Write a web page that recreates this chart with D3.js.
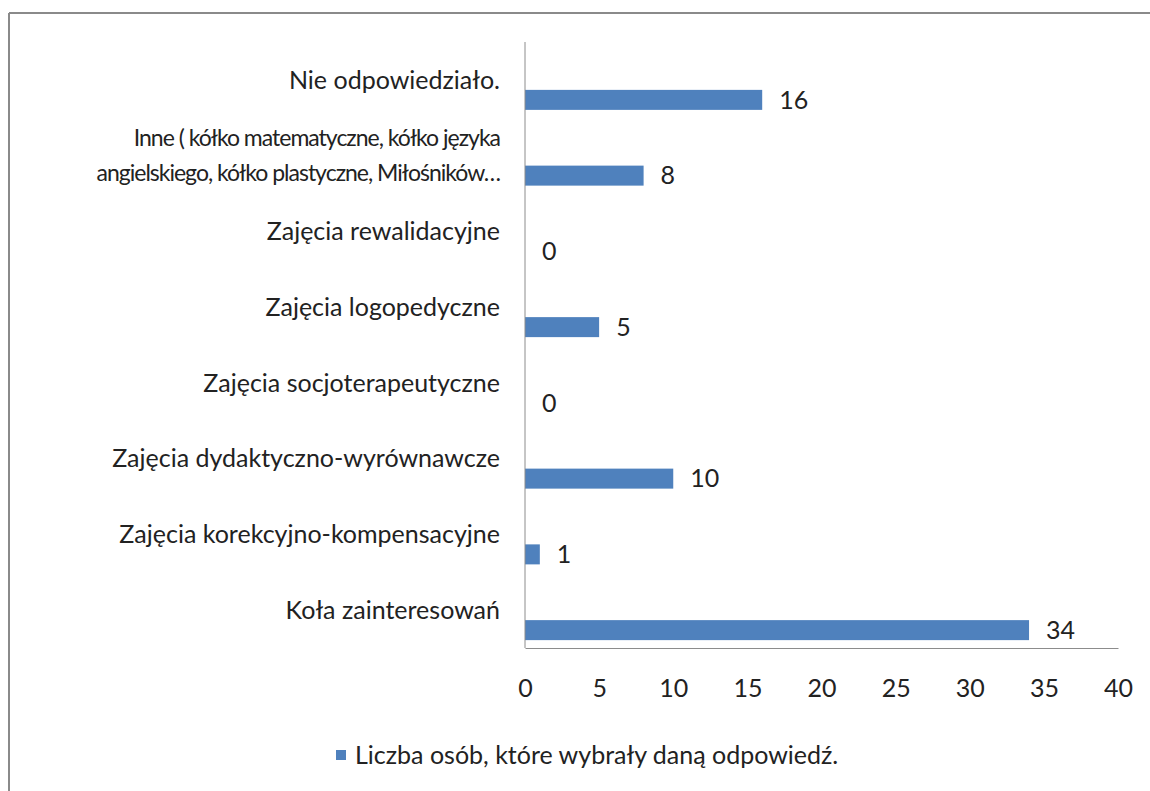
<!DOCTYPE html>
<html>
<head>
<meta charset="utf-8">
<script src="https://cdn.jsdelivr.net/npm/d3@7"></script>
<style>
  html, body { margin: 0; padding: 0; background: #fff; }
  svg { display: block; font-family: Lato, "Open Sans", sans-serif; }
</style>
</head>
<body>
<svg id="chart" width="1150" height="791"></svg>
<script>
// categories top to bottom, as in the picture
const categories = [
  ["Nie odpowiedziało."],
  ["Inne ( kółko matematyczne, kółko języka", "angielskiego, kółko plastyczne, Miłośników…"],
  ["Zajęcia rewalidacyjne"],
  ["Zajęcia logopedyczne"],
  ["Zajęcia socjoterapeutyczne"],
  ["Zajęcia dydaktyczno-wyrównawcze"],
  ["Zajęcia korekcyjno-kompensacyjne"],
  ["Koła zainteresowań"]
];
const values = [16, 8, 0, 5, 0, 10, 1, 34];
const xTicks = [0, 5, 10, 15, 20, 25, 30, 35, 40];
const seriesName = "Liczba osób, które wybrały daną odpowiedź.";

const barColor = "#4f81bd";
const textColor = "#222";
const axisColor = "#8c8c8c";
const fontSize = 25;
const wrappedFontSize = 23; // two-line label is set a bit tighter

const svg = d3.select("#chart");

// frame of the original picture (top and left edges only)
svg.append("line").attr("x1", 9).attr("x2", 1150).attr("y1", 13).attr("y2", 13)
  .attr("stroke", "#8a8a8a").attr("stroke-width", 2);
svg.append("line").attr("x1", 9).attr("x2", 9).attr("y1", 13).attr("y2", 791)
  .attr("stroke", "#8a8a8a").attr("stroke-width", 2);

const plot = {left: 525, right: 1118, top: 42, bottom: 648};

const x = d3.scaleLinear().domain([0, 40]).range([plot.left, plot.right]);
const y = d3.scaleBand().domain(d3.range(categories.length)).range([plot.top, plot.bottom]);

// bar sits in the lower part of each band
const barOffset = y.bandwidth() / 2 + 10;
const barH = 20;

const g = svg.append("g");

g.selectAll("rect.bar").data(values).join("rect")
  .attr("class", "bar")
  .attr("x", x(0))
  .attr("y", (d, i) => y(i) + barOffset)
  .attr("width", d => x(d) - x(0))
  .attr("height", barH)
  .attr("fill", barColor);

// value labels
g.selectAll("text.val").data(values).join("text")
  .attr("class", "val")
  .attr("x", d => x(d) + 17)
  .attr("y", (d, i) => y(i) + barOffset + barH / 2)
  .attr("dy", "0.35em")
  .attr("font-size", fontSize)
  .attr("fill", textColor)
  .text(d => d);

// category labels
const lineH = 35;
const cat = g.selectAll("text.cat").data(categories).join("text")
  .attr("class", "cat")
  .attr("text-anchor", "end")
  .attr("font-size", d => d.length > 1 ? wrappedFontSize : fontSize)
  .attr("letter-spacing", d => d.length > 1 ? "-1px" : null)
  .attr("fill", textColor);
cat.selectAll("tspan").data((d, i) => d.map((t, j) => ({t, j, n: d.length, i}))).join("tspan")
  .attr("x", 500)
  .attr("y", d => y(d.i) + y.bandwidth() / 2 + (d.j - (d.n - 1) / 2) * lineH)
  .attr("dy", "0.35em")
  .text(d => d.t);

// axes
svg.append("line").attr("x1", plot.left).attr("x2", plot.left)
  .attr("y1", plot.top).attr("y2", plot.bottom).attr("stroke", axisColor);

const xAxis = svg.append("g")
  .attr("transform", `translate(0,${plot.bottom})`)
  .call(d3.axisBottom(x).tickValues(xTicks).tickSize(0).tickPadding(31).tickSizeOuter(0));
xAxis.select(".domain").attr("stroke", axisColor);
xAxis.selectAll("text").attr("font-size", fontSize).attr("fill", textColor)
  .attr("font-family", "Lato, sans-serif");

// legend
const lg = svg.append("g").attr("transform", "translate(336,750)");
lg.append("rect").attr("width", 10).attr("height", 10).attr("fill", barColor);
lg.append("text").attr("x", 19).attr("y", 5).attr("dy", "0.35em")
  .attr("font-size", fontSize).attr("fill", textColor).text(seriesName);
</script>
</body>
</html>
